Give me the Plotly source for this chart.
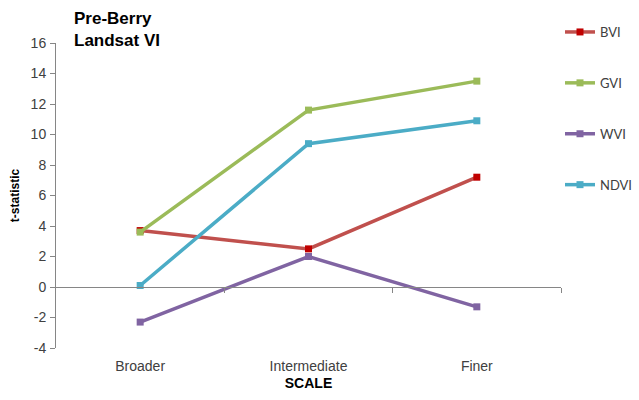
import plotly.graph_objects as go

categories = ["Broader", "Intermediate", "Finer"]
bvi = [3.7, 2.5, 7.2]
gvi = [3.6, 11.6, 13.5]
wvi = [-2.3, 2.0, -1.3]
ndvi = [0.1, 9.4, 10.9]
y_ticks = [-4, -2, 0, 2, 4, 6, 8, 10, 12, 14, 16]
y_ticktext = ["-4", "-2", "0", "2", "4", "6", "8", "10", "12", "14", "16"]

series = [
    ("BVI", bvi, "#C0504D", "#C00000"),
    ("GVI", gvi, "#9BBB59", "#9BBB59"),
    ("WVI", wvi, "#8064A2", "#8064A2"),
    ("NDVI", ndvi, "#4BACC6", "#4BACC6"),
]

xpos = list(range(len(categories)))
boundaries = [i + 0.5 for i in xpos]

W, H = 639, 400
ML, MR, MT, MB = 56, 78, 43, 52
PH = H - MT - MB
PW = W - ML - MR

fig = go.Figure()
for i, (name, vals, lc, mc) in enumerate(series):
    fig.add_trace(go.Scatter(
        x=xpos, y=vals, name=name, mode="lines+markers",
        line=dict(color=lc, width=3.5),
        marker=dict(symbol="square", size=7, color=mc),
        legendgroup=name,
    ))

# helper trace for the axis drawn along y = 0
fig.add_trace(go.Scatter(x=xpos, y=bvi, xaxis="x2", mode="lines",
                         opacity=0, showlegend=False, hoverinfo="skip"))

tickfont = dict(family="Arial, Liberation Sans", size=14, color="#404040")

fig.update_layout(
    width=W, height=H,
    margin=dict(l=ML, r=MR, t=MT, b=MB, autoexpand=False),
    paper_bgcolor="white", plot_bgcolor="white",
    showlegend=True,
    xaxis=dict(range=[-0.5, 2.5], tickvals=xpos, ticktext=categories,
               showline=False, showgrid=False, zeroline=False, ticks="",
               tickfont=tickfont, ticklabelstandoff=8,
               title=dict(text="<b>SCALE</b>", standoff=5,
                          font=dict(family="Arial, Liberation Sans", size=14, color="black"))),
    xaxis2=dict(range=[-0.5, 2.5], overlaying="x", anchor="free", position=0.2,
                tickvals=boundaries, showticklabels=False, ticks="outside", ticklen=5,
                tickcolor="#868686", showline=True, linecolor="#868686", linewidth=1,
                showgrid=False, zeroline=False),
    yaxis=dict(range=[-4, 16], tickvals=y_ticks, ticktext=y_ticktext,
               showline=True, linecolor="#868686", linewidth=1,
               ticks="outside", ticklen=5, tickcolor="#868686", showgrid=False,
               zeroline=False, tickfont=tickfont, ticklabelstandoff=1,
               title=dict(text="<b>t-statistic</b>", standoff=8,
                          font=dict(family="Arial, Liberation Sans", size=12, color="black"))),
    legend=dict(xref="container", yref="container", x=560/W, y=1-17/H,
                xanchor="left", yanchor="top", traceorder="grouped", tracegroupgap=31,
                font=dict(family="Lato, Open Sans", size=13, color="#404040"),
                bgcolor="rgba(0,0,0,0)"),
    annotations=[dict(text="<b>Pre-Berry<br>Landsat VI</b>", xref="paper", yref="paper",
                      x=(72 - ML) / PW, y=1 + (MT - 7) / PH, xanchor="left", yanchor="top",
                      align="left", showarrow=False,
                      font=dict(family="Arial, Liberation Sans", size=17, color="black"))],
)

fig.write_html("out.html")
